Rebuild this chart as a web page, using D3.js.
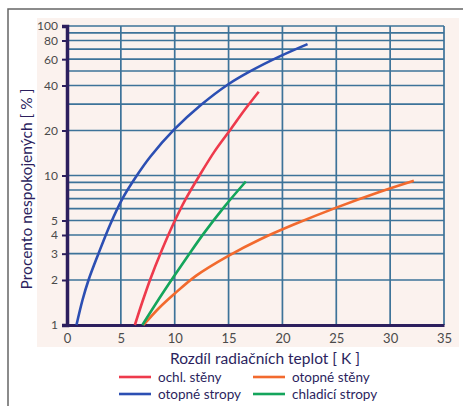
<!DOCTYPE html>
<html><head><meta charset="utf-8">
<script src="https://cdn.jsdelivr.net/npm/d3@7"></script>
<style>body{margin:0;background:#fff}svg{display:block}</style>
</head><body>
<svg id="c" width="463" height="406"></svg>
<script>
const xTicks = [0,5,10,15,20,25,30,35];
const yLabels = [1,2,3,4,5,10,20,40,60,80,100];
const yGrid = [1,2,3,4,5,6,7,8,9,10,20,30,40,50,60,70,80,90,100];

const ochlSteny_x = [6.3,7.0,7.75,8.8,9.9,11.0,12.3,13.7,15.2,16.5,17.8];
const ochlSteny_y = [1,1.43,2.04,3.16,4.79,6.92,10,14.5,20.4,27.5,36.3];
const otopneStropy_x = [0.88,1.44,2.0,2.92,4.04,5.15,6.36,7.75,9.98,12.4,14.98,17.03,19.8,22.33];
const otopneStropy_y = [1,1.47,2.0,3.0,4.76,7.01,9.7,13.4,20.4,29.5,40.8,49.9,62.9,75.7];
const chladiciStropy_x = [7.0,8.5,9.9,11.3,12.7,14.6,16.6];
const chladiciStropy_y = [1,1.48,2.1,2.95,4.1,6.17,9.12];
const otopneSteny_x = [7.1,8.5,9.9,12.0,14.9,18.0,21.0,25.0,29.0,32.2];
const otopneSteny_y = [1,1.29,1.60,2.14,2.88,3.76,4.68,6.1,7.76,9.23];

const series = [
  {name:"ochl. stěny", color:"#ee3a4c", xs:ochlSteny_x, ys:ochlSteny_y},
  {name:"otopné stěny", color:"#f26a2e", xs:otopneSteny_x, ys:otopneSteny_y},
  {name:"otopné stropy", color:"#2c4fb3", xs:otopneStropy_x, ys:otopneStropy_y},
  {name:"chladicí stropy", color:"#14a55c", xs:chladiciStropy_x, ys:chladiciStropy_y}
];

const svg = d3.select("#c");
const L=67, R=444, T=26, B=325;
const x = d3.scaleLinear().domain([0,35]).range([L,R]);
const y = d3.scaleLog().domain([1,100]).range([B,T]);
const dark="#2c1f5e", grid="#3d7399", txt="#4a4a4a";
const FF = "Lato, 'Open Sans', sans-serif";

// outer frame
svg.append("rect").attr("x",8).attr("y",9).attr("width",470).attr("height",420)
  .attr("fill","#fff").attr("stroke","#666").attr("stroke-width",1.5);
// pinkish paper
svg.append("rect").attr("x",37).attr("y",18).attr("width",422).attr("height",329).attr("fill","#fbf2ee");

// grid
const g = svg.append("g");
g.selectAll(".hg").data(yGrid).join("line")
  .attr("x1",L).attr("x2",R).attr("y1",d=>y(d)).attr("y2",d=>y(d))
  .attr("stroke",grid).attr("stroke-width",1.6);
g.selectAll(".vg").data(xTicks.slice(1)).join("line")
  .attr("x1",d=>x(d)).attr("x2",d=>x(d)).attr("y1",T).attr("y2",B)
  .attr("stroke",grid).attr("stroke-width",1.7);

// axes
const yAx = d3.axisLeft(y).tickValues(yLabels).tickFormat(d3.format("d")).tickSize(5).tickPadding(4);
const ya = svg.append("g").attr("transform",`translate(${L},0)`).call(yAx);
ya.select(".domain").attr("stroke",dark).attr("stroke-width",3.5);
ya.selectAll(".tick line").attr("stroke",dark).attr("stroke-width",2);
ya.selectAll("text").attr("fill",txt).style("font-family",FF).style("font-size","12px");

const xAx = d3.axisBottom(x).tickValues(xTicks).tickSize(0).tickPadding(9);
const xa = svg.append("g").attr("transform",`translate(0,${B})`).call(xAx);
xa.select(".domain").attr("stroke",dark).attr("stroke-width",3);
xa.selectAll("text").attr("fill",txt).style("font-family",FF).style("font-size","13px");

// curves
const line = d3.line().x(d=>x(d[0])).y(d=>y(d[1])).curve(d3.curveCatmullRom.alpha(0.5));
series.forEach(s=>{
  svg.append("path").datum(s.xs.map((v,i)=>[v,s.ys[i]]))
    .attr("d",line).attr("fill","none").attr("stroke",s.color).attr("stroke-width",2.6);
});

// titles
svg.append("text").attr("transform","translate(32,189) rotate(-90)")
  .attr("text-anchor","middle").attr("fill",dark)
  .style("font-family",FF).style("font-size","15.5px")
  .text("Procento nespokojených [ % ]");
svg.append("text").attr("x",265).attr("y",364).attr("text-anchor","middle").attr("fill",dark)
  .style("font-family",FF).style("font-size","15.5px")
  .text("Rozdíl radiačních teplot  [ K ]");

// legend
const legPos = [[119,377],[253,377],[119,394],[253,394]];
series.forEach((s,i)=>{
  const [lx,ly]=legPos[i];
  svg.append("line").attr("x1",lx).attr("x2",lx+32).attr("y1",ly).attr("y2",ly)
    .attr("stroke",s.color).attr("stroke-width",2.6);
  svg.append("text").attr("x",lx+39).attr("y",ly+4.5).attr("fill",dark)
    .style("font-family",FF).style("font-size","13.5px")
    .text(s.name);
});
</script>
</body></html>
